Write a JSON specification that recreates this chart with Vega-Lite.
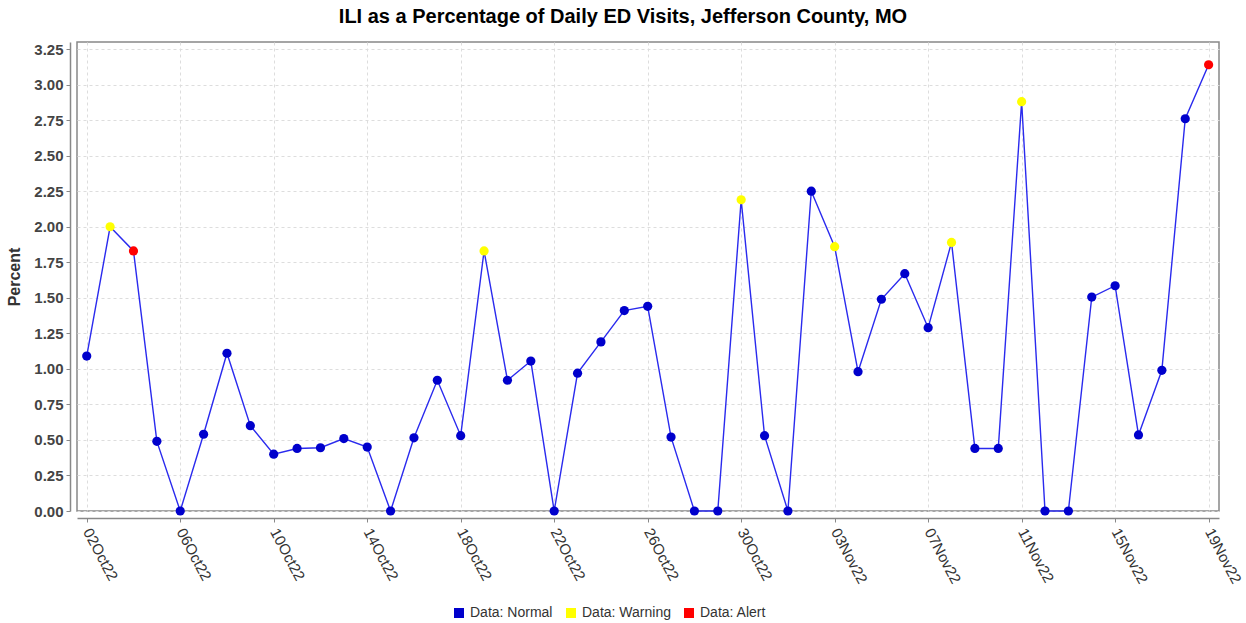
{
  "$schema": "https://vega.github.io/schema/vega-lite/v6.json",
  "autosize": {"type": "none"},
  "width": 1142,
  "height": 469,
  "padding": {"left": 77, "top": 42, "right": 27, "bottom": 112},
  "background": "white",
  "title": {
    "text": "ILI as a Percentage of Daily ED Visits, Jefferson County, MO",
    "font": "Liberation Sans",
    "fontSize": 20,
    "fontWeight": "bold",
    "color": "#000000",
    "anchor": "middle",
    "dx": -25,
    "offset": 15
  },
  "config": {
    "view": {"stroke": "#888888", "strokeWidth": 1.5},
    "font": "Liberation Sans"
  },
  "data": {
    "values": [
      {"date": "2022-10-02", "value": 1.09, "status": "Data: Normal"},
      {"date": "2022-10-03", "value": 2.00, "status": "Data: Warning"},
      {"date": "2022-10-04", "value": 1.83, "status": "Data: Alert"},
      {"date": "2022-10-05", "value": 0.49, "status": "Data: Normal"},
      {"date": "2022-10-06", "value": 0.00, "status": "Data: Normal"},
      {"date": "2022-10-07", "value": 0.54, "status": "Data: Normal"},
      {"date": "2022-10-08", "value": 1.11, "status": "Data: Normal"},
      {"date": "2022-10-09", "value": 0.60, "status": "Data: Normal"},
      {"date": "2022-10-10", "value": 0.40, "status": "Data: Normal"},
      {"date": "2022-10-11", "value": 0.44, "status": "Data: Normal"},
      {"date": "2022-10-12", "value": 0.445, "status": "Data: Normal"},
      {"date": "2022-10-13", "value": 0.51, "status": "Data: Normal"},
      {"date": "2022-10-14", "value": 0.45, "status": "Data: Normal"},
      {"date": "2022-10-15", "value": 0.00, "status": "Data: Normal"},
      {"date": "2022-10-16", "value": 0.515, "status": "Data: Normal"},
      {"date": "2022-10-17", "value": 0.92, "status": "Data: Normal"},
      {"date": "2022-10-18", "value": 0.53, "status": "Data: Normal"},
      {"date": "2022-10-19", "value": 1.83, "status": "Data: Warning"},
      {"date": "2022-10-20", "value": 0.92, "status": "Data: Normal"},
      {"date": "2022-10-21", "value": 1.055, "status": "Data: Normal"},
      {"date": "2022-10-22", "value": 0.00, "status": "Data: Normal"},
      {"date": "2022-10-23", "value": 0.97, "status": "Data: Normal"},
      {"date": "2022-10-24", "value": 1.19, "status": "Data: Normal"},
      {"date": "2022-10-25", "value": 1.41, "status": "Data: Normal"},
      {"date": "2022-10-26", "value": 1.44, "status": "Data: Normal"},
      {"date": "2022-10-27", "value": 0.52, "status": "Data: Normal"},
      {"date": "2022-10-28", "value": 0.00, "status": "Data: Normal"},
      {"date": "2022-10-29", "value": 0.00, "status": "Data: Normal"},
      {"date": "2022-10-30", "value": 2.19, "status": "Data: Warning"},
      {"date": "2022-10-31", "value": 0.53, "status": "Data: Normal"},
      {"date": "2022-11-01", "value": 0.00, "status": "Data: Normal"},
      {"date": "2022-11-02", "value": 2.25, "status": "Data: Normal"},
      {"date": "2022-11-03", "value": 1.86, "status": "Data: Warning"},
      {"date": "2022-11-04", "value": 0.98, "status": "Data: Normal"},
      {"date": "2022-11-05", "value": 1.49, "status": "Data: Normal"},
      {"date": "2022-11-06", "value": 1.67, "status": "Data: Normal"},
      {"date": "2022-11-07", "value": 1.29, "status": "Data: Normal"},
      {"date": "2022-11-08", "value": 1.89, "status": "Data: Warning"},
      {"date": "2022-11-09", "value": 0.44, "status": "Data: Normal"},
      {"date": "2022-11-10", "value": 0.44, "status": "Data: Normal"},
      {"date": "2022-11-11", "value": 2.88, "status": "Data: Warning"},
      {"date": "2022-11-12", "value": 0.00, "status": "Data: Normal"},
      {"date": "2022-11-13", "value": 0.00, "status": "Data: Normal"},
      {"date": "2022-11-14", "value": 1.505, "status": "Data: Normal"},
      {"date": "2022-11-15", "value": 1.585, "status": "Data: Normal"},
      {"date": "2022-11-16", "value": 0.535, "status": "Data: Normal"},
      {"date": "2022-11-17", "value": 0.99, "status": "Data: Normal"},
      {"date": "2022-11-18", "value": 2.76, "status": "Data: Normal"},
      {"date": "2022-11-19", "value": 3.14, "status": "Data: Alert"}
    ]
  },
  "encoding": {
    "x": {
      "field": "date",
      "type": "temporal",
      "scale": {
        "domain": [
          {"year": 2022, "month": 10, "date": 1, "hours": 14},
          {"year": 2022, "month": 11, "date": 19, "hours": 10, "minutes": 40}
        ],
        "nice": false
      },
      "axis": {
        "title": null,
        "values": [
          {"year": 2022, "month": 10, "date": 2},
          {"year": 2022, "month": 10, "date": 6},
          {"year": 2022, "month": 10, "date": 10},
          {"year": 2022, "month": 10, "date": 14},
          {"year": 2022, "month": 10, "date": 18},
          {"year": 2022, "month": 10, "date": 22},
          {"year": 2022, "month": 10, "date": 26},
          {"year": 2022, "month": 10, "date": 30},
          {"year": 2022, "month": 11, "date": 3},
          {"year": 2022, "month": 11, "date": 7},
          {"year": 2022, "month": 11, "date": 11},
          {"year": 2022, "month": 11, "date": 15},
          {"year": 2022, "month": 11, "date": 19}
        ],
        "format": "%d%b%y",
        "labelAngle": 62,
        "labelAlign": "left",
        "labelBaseline": "middle",
        "labelFontSize": 15,
        "labelColor": "#333333",
        "labelPadding": 7,
        "labelOverlap": false,
        "labelBound": false,
        "labelFlush": false,
        "offset": 7,
        "domainColor": "#888888",
        "domainWidth": 1.5,
        "tickColor": "#888888",
        "tickSize": 4,
        "grid": true,
        "gridColor": "#dddddd",
        "gridDash": [3, 3],
        "gridWidth": 1
      }
    },
    "y": {
      "field": "value",
      "type": "quantitative",
      "scale": {"domain": [0, 3.3], "nice": false, "zero": true},
      "axis": {
        "title": "Percent",
        "titleFontSize": 16,
        "titleFontWeight": "bold",
        "titleColor": "#333333",
        "titlePadding": 11,
        "values": [0, 0.25, 0.5, 0.75, 1, 1.25, 1.5, 1.75, 2, 2.25, 2.5, 2.75, 3, 3.25],
        "format": ".2f",
        "labelFontSize": 15,
        "labelFontWeight": "bold",
        "labelColor": "#444444",
        "labelPadding": 3,
        "offset": 7,
        "domainColor": "#888888",
        "domainWidth": 1.5,
        "tickColor": "#888888",
        "tickSize": 4,
        "grid": true,
        "gridColor": "#dddddd",
        "gridDash": [3, 3],
        "gridWidth": 1
      }
    }
  },
  "layer": [
    {
      "mark": {"type": "line", "color": "#2a2aee", "strokeWidth": 1.4},
      "encoding": {}
    },
    {
      "mark": {"type": "point", "filled": true, "opacity": 1, "size": 85},
      "encoding": {
        "color": {
          "field": "status",
          "type": "nominal",
          "scale": {
            "domain": ["Data: Normal", "Data: Warning", "Data: Alert"],
            "range": ["#0000CC", "#FFFF00", "#FF0000"]
          },
          "legend": {
            "title": null,
            "orient": "none",
            "direction": "horizontal",
            "legendX": 375,
            "legendY": 564,
            "symbolType": "square",
            "symbolSize": 100,
            "symbolOpacity": 1,
            "labelFontSize": 14,
            "labelColor": "#333333",
            "labelOffset": 4,
            "columnPadding": 11
          }
        }
      }
    }
  ]
}
